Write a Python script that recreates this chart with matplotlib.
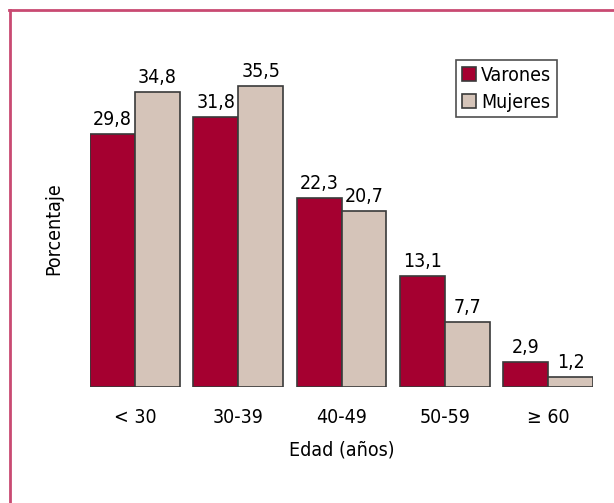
import matplotlib
matplotlib.use('Agg')
import matplotlib.pyplot as plt
import numpy as np
from matplotlib.lines import Line2D

# datos del grafico
grupos = ['< 30', '30-39', '40-49', '50-59', '\u2265 60']
varones = [29.8, 31.8, 22.3, 13.1, 2.9]
mujeres = [34.8, 35.5, 20.7, 7.7, 1.2]
etiquetas_v = ['29,8', '31,8', '22,3', '13,1', '2,9']
etiquetas_m = ['34,8', '35,5', '20,7', '7,7', '1,2']

plt.rcParams['font.family'] = ['DejaVu Sans']
plt.rcParams['font.stretch'] = 'condensed'
fs = 14

col_v = '#a50030'
col_m = '#d5c4b9'
borde = '#3a3a3a'

fig = plt.figure(figsize=(6.14, 5.03), dpi=100)
W, H = 614, 503

# marco rosado (solo arriba e izquierda visibles)
fig.add_artist(Line2D([9 / W, 1], [1 - 9.5 / H, 1 - 9.5 / H], color='#c94a72', lw=2, transform=fig.transFigure))
fig.add_artist(Line2D([9.5 / W, 9.5 / W], [0, 1 - 9.5 / H], color='#c94a72', lw=2, transform=fig.transFigure))

ax = fig.add_axes([90 / W, (H - 387) / H, (593 - 90) / W, 339.2 / H])
x = np.arange(len(grupos))
w = 0.435
b1 = ax.bar(x - w / 2, varones, w, color=col_v, edgecolor=borde, linewidth=1.2, label='Varones')
b2 = ax.bar(x + w / 2, mujeres, w, color=col_m, edgecolor=borde, linewidth=1.2, label='Mujeres')

for r, t in zip(b1, etiquetas_v):
    ax.text(r.get_x() + r.get_width() / 2, r.get_height() + 0.6, t, ha='center', va='bottom', fontsize=fs)
for r, t in zip(b2, etiquetas_m):
    ax.text(r.get_x() + r.get_width() / 2, r.get_height() + 0.6, t, ha='center', va='bottom', fontsize=fs)

ax.set_xlim(-w, len(grupos) - 1 + w)
ax.set_ylim(0, 40)
ax.set_xticks(x)
ax.set_xticklabels(grupos, fontsize=fs)
ax.tick_params(axis='x', length=0, pad=15)
ax.set_yticks([])
for s in ax.spines.values():
    s.set_visible(False)
ax.set_xlabel('Edad (a\u00f1os)', fontsize=fs, labelpad=10)
ax.set_ylabel('Porcentaje', fontsize=fs)
ax.yaxis.set_label_coords(-0.054, 0.466)

leg = ax.legend(loc='upper right', bbox_to_anchor=(557 / W, 1 - 60 / H), bbox_transform=fig.transFigure,
                fontsize=fs, frameon=True, fancybox=False,
                edgecolor='#222222', handlelength=0.75, handleheight=0.75, handletextpad=0.25,
                borderpad=0.3, labelspacing=0.4, borderaxespad=0)
leg.get_frame().set_linewidth(1.2)

plt.savefig('out.png', dpi=100)
